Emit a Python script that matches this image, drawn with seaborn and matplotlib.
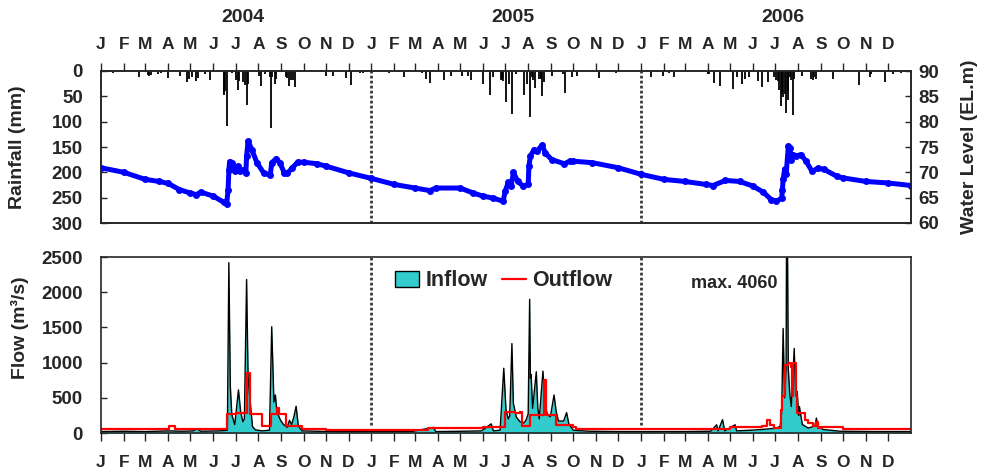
import matplotlib
matplotlib.use("Agg")
import matplotlib.pyplot as plt
import seaborn as sns
import pandas as pd
from matplotlib.patches import Patch
from matplotlib.lines import Line2D

# ---- data (x values are day numbers counted from 1 Jan 2004) ----
years = ["2004", "2005", "2006"]
month_letters = ["J", "F", "M", "A", "M", "J", "J", "A", "S", "O", "N", "D"]

rain_day = [16, 52, 63, 65, 68, 77, 81, 90, 107, 116, 119, 123, 129, 131, 141, 148,
            166, 167, 168, 170, 177, 183, 185, 187, 192, 195, 197, 199, 214, 216, 222,
            228, 230, 232, 235, 237, 250, 252, 254, 257, 260, 263, 305, 314, 331, 338,
            350, 354,
            390, 403, 410, 434, 440, 445, 464, 473, 489, 496, 501, 517, 526, 531, 541,
            543, 544, 548, 552, 556, 561, 573, 576, 580, 583, 585, 587, 593, 595, 596,
            597, 600, 610, 625, 628, 637, 644, 674, 697,
            744, 760, 768, 775, 805, 821, 823, 830, 838, 855, 861, 868, 872, 877, 889,
            895, 903, 910, 914, 916, 918, 920, 921, 923, 925, 927, 929, 930, 932, 934,
            936, 938, 948, 961, 963, 965, 967, 991, 1025, 1040, 1042, 1061, 1072, 1083]
rain_mm = [3, 12, 8, 10, 7, 5, 4, 13, 9, 22, 15, 12, 20, 14, 5, 17,
           45, 48, 40, 108, 4, 18, 37, 20, 22, 28, 68, 25, 9, 30, 5,
           12, 113, 12, 25, 15, 12, 14, 30, 18, 18, 32, 9, 9, 13, 28,
           4, 3,
           3, 2, 12, 4, 15, 24, 18, 9, 9, 9, 18, 25, 48, 12, 18,
           15, 20, 62, 25, 85, 5, 48, 25, 90, 12, 18, 33, 15, 14, 16,
           50, 22, 9, 5, 44, 11, 9, 13, 4,
           11, 9, 4, 11, 2, 5, 6, 24, 30, 35, 12, 25, 15, 12, 20,
           32, 22, 12, 17, 20, 38, 70, 45, 52, 46, 83, 58, 40, 12, 18,
           86, 15, 9, 15, 18, 12, 15, 15, 28, 12, 6, 22, 5, 4]

level_day = [0, 31, 60, 79, 91, 106, 121, 129, 135, 152, 166, 170, 172, 173, 174, 177,
             181, 185, 188, 192, 196, 197, 199, 204, 211, 220, 229, 231, 237, 242, 248,
             252, 259, 266, 274, 292, 305, 335,
             366, 397, 425, 445, 453, 486, 504, 517, 531, 544, 547, 551, 555, 558, 564,
             571, 578, 579, 581, 586, 590, 597, 601, 610, 627, 634, 639, 665, 700,
             731, 762, 790, 819, 828, 845, 864, 882, 896, 907, 914, 921, 922, 923, 925,
             927, 929, 930, 932, 934, 936, 940, 947, 954, 962, 970, 978, 996, 1004,
             1035, 1065, 1096]
level_m = [70.9, 70.0, 68.6, 68.2, 67.8, 66.6, 65.9, 65.6, 66.1, 65.3, 64.1, 63.8, 66.6,
           70.4, 72.1, 71.9, 70.2, 71.2, 70.2, 70.5, 69.8, 73.2, 76.2, 74.5, 71.9, 69.9,
           69.4, 71.9, 72.7, 71.9, 69.9, 69.8, 70.9, 72.0, 72.0, 71.7, 71.2, 69.9,
           68.8, 67.6, 66.9, 66.4, 66.9, 66.9, 65.9, 65.3, 64.9, 64.3, 66.3, 68.0, 67.3,
           70.0, 68.2, 67.3, 67.6, 71.2, 73.2, 74.5, 74.2, 75.4, 73.8, 72.5, 71.7, 72.2,
           72.2, 71.9, 70.9,
           69.6, 68.6, 68.2, 67.6, 67.4, 68.4, 68.2, 67.3, 66.1, 64.6, 64.3, 64.9, 66.6,
           68.6, 70.6, 69.6, 73.2, 75.2, 74.9, 72.5, 73.5, 73.2, 73.5, 72.2, 70.2, 70.8,
           70.6, 69.2, 68.9, 68.2, 67.9, 67.4]

inflow_day = [0, 30, 60, 92, 110, 125, 130, 135, 160, 171, 173, 175, 177, 181, 186, 189,
              192, 194, 197, 199, 201, 205, 209, 218, 228, 231, 234, 236, 238, 243, 247,
              252, 255, 258, 261, 264, 267, 272, 290, 320, 350,
              380, 420, 450, 453, 490, 515, 528, 531, 540, 545, 548, 551, 553, 556, 558,
              562, 567, 572, 575, 578, 580, 581, 582, 584, 589, 591, 593, 598, 601, 604,
              608, 613, 616, 619, 626, 630, 633, 639, 660, 700, 731,
              760, 790, 825, 833, 835, 841, 844, 858, 860, 880, 894, 905, 915, 919, 921,
              923, 925, 927, 928, 930, 932, 934, 938, 940, 942, 944, 945, 949, 957, 966,
              968, 970, 977, 1000, 1050, 1096]
inflow_cms = [20, 25, 20, 30, 25, 30, 60, 25, 30, 40, 2420, 660, 260, 120, 612, 300,
              160, 200, 2180, 800, 540, 90, 45, 30, 40, 1510, 440, 540, 300, 180, 120,
              80, 180, 120, 230, 380, 100, 30, 25, 20, 20,
              20, 20, 80, 20, 25, 30, 130, 30, 40, 920, 330, 200, 240, 1270, 420,
              225, 160, 140, 180, 270, 1900, 780, 830, 350, 870, 360, 200, 880, 400, 260,
              230, 540, 300, 170, 170, 290, 130, 40, 25, 20, 20,
              20, 20, 25, 117, 30, 190, 30, 117, 30, 40, 50, 60, 70, 100, 300,
              1485, 500, 900, 4060, 900, 560, 376, 1200, 520, 590, 250, 376, 120, 70, 100,
              212, 100, 50, 25, 20, 20]

outflow_day = [0, 92, 100, 152, 171, 182, 198, 202, 218, 230, 238, 241, 250, 272, 305,
               366, 443, 486, 517, 547, 560, 567, 569, 580, 593, 599, 602, 616, 638, 643,
               731, 851, 894, 901, 905, 910, 920, 922, 926, 930, 933, 935, 937, 940, 942,
               952, 956, 963, 967, 970, 974, 1004, 1096]
outflow_cms = [55, 95, 55, 50, 270, 285, 850, 270, 95, 265, 350, 265, 100, 60, 45,
               45, 65, 70, 90, 297, 280, 300, 100, 260, 250, 755, 260, 117, 90, 55,
               50, 90, 100, 180, 110, 70, 330, 530, 966, 990, 940, 520, 1000, 520, 283,
               190, 140, 100, 160, 70, 90, 50, 50]

peak_label = "max. 4060"

# ---- style ----
sns.set_style("ticks")
plt.rcParams["font.family"] = ["Liberation Sans", "DejaVu Sans"]
plt.rcParams["font.weight"] = "bold"
plt.rcParams["axes.linewidth"] = 1.2

W, H = 984, 472
fig = plt.figure(figsize=(W / 100, H / 100), dpi=100)

def box(left, top, right, bottom):
    return [left / W, 1 - bottom / H, (right - left) / W, (bottom - top) / H]

ax_r = fig.add_axes(box(101, 71, 911, 223))
ax_w = ax_r.twinx()
ax_f = fig.add_axes(box(101, 257, 911, 433))

t0 = pd.Timestamp("2004-01-01")
month_starts = pd.date_range("2004-01-01", "2006-12-01", freq="MS")
month_ticks = [(m - t0).days for m in month_starts]
month_labels = month_letters * len(years)
year_starts = [(pd.Timestamp(f"{y}-01-01") - t0).days for y in years] + [1096]
x_end = year_starts[-1]

grid_color = "#3a3a3a"

# ---- rainfall (hanging bars) ----
ax_r.vlines(rain_day, 0, rain_mm, color="black", lw=1.3)
ax_r.set_xlim(0, x_end)
ax_r.set_ylim(300, 0)
ax_r.set_yticks(range(0, 301, 50))
ax_r.xaxis.tick_top()
ax_r.set_xticks(month_ticks)
ax_r.set_xticklabels(month_labels)
ax_r.tick_params(axis="x", direction="out", length=6, width=1, pad=8,
                 labelsize=12.5, top=True, bottom=False)
ax_r.tick_params(axis="y", direction="in", length=4, width=1, pad=13, labelsize=13.5)
for d in year_starts[1:-1]:
    ax_r.axvline(d, color=grid_color, ls=(0, (1, 0.8)), lw=2)

# ---- reservoir water level ----
sns.lineplot(x=level_day, y=level_m, ax=ax_w, color="blue", lw=3.6,
             marker="o", markersize=5, markeredgewidth=0, sort=False)
ax_w.set_ylim(60, 90)
ax_w.set_yticks(range(60, 91, 5))
ax_w.set_xlim(0, x_end)
ax_w.set_xlabel("")
ax_w.set_ylabel("")
ax_w.tick_params(axis="y", direction="in", length=4, width=1, pad=5, labelsize=13.5)
ax_w.tick_params(axis="x", top=False, bottom=False, labeltop=False, labelbottom=False)

# ---- inflow / outflow ----
ax_f.fill_between(inflow_day, 0, inflow_cms, color="#33CCCC", lw=0)
sns.lineplot(x=inflow_day, y=inflow_cms, ax=ax_f, color="black", lw=1.0, sort=False)
sns.lineplot(x=outflow_day, y=outflow_cms, ax=ax_f, color="red", lw=1.6,
             drawstyle="steps-post", sort=False)
ax_f.set_xlim(0, x_end)
ax_f.set_ylim(0, 2500)
ax_f.set_yticks(range(0, 2501, 500))
ax_f.set_xticks(month_ticks)
ax_f.set_xticklabels(month_labels)
ax_f.set_xlabel("")
ax_f.set_ylabel("")
ax_f.tick_params(axis="x", direction="out", length=6, width=1, pad=10, labelsize=12.5)
ax_f.tick_params(axis="y", direction="in", length=4, width=1, pad=13, labelsize=13.5)
for d in year_starts[1:-1]:
    ax_f.axvline(d, ymin=0.045, ymax=1.0, color=grid_color, ls=(0, (1, 0.8)), lw=2)

ax_f.text(916, 2130, peak_label, ha="right", va="center", fontsize=13,
          fontweight="bold")

handles = [Patch(facecolor="#33CCCC", edgecolor="black", lw=1),
           Line2D([], [], color="red", lw=1.6)]
fig.legend(handles, ["Inflow", "Outflow"], loc="center left",
           bbox_to_anchor=(395 / W, 1 - 281 / H), ncol=2, frameon=False,
           prop={"size": 15.5, "weight": "bold"}, handlelength=1.1, handleheight=0.75,
           handletextpad=0.3, columnspacing=0.7, borderpad=0, borderaxespad=0)

# ---- titles and axis labels ----
for yr, x0, x1 in zip(years, year_starts[:-1], year_starts[1:]):
    xc = 101 + (x0 + x1) / 2 * 810 / x_end
    fig.text(xc / W + 0.007, 1 - 18 / H, yr, ha="center", va="center",
             fontsize=14, fontweight="bold")

fig.text(18 / W, 1 - 147 / H, "Rainfall (mm)", rotation=90, ha="center",
         va="center", fontsize=14, fontweight="bold")
fig.text(20 / W, 1 - 328 / H, "Flow (m³/s)", rotation=90, ha="center",
         va="center", fontsize=14, fontweight="bold")
fig.text(970 / W, 1 - 147 / H, "Water Level (EL.m)", rotation=90, ha="center",
         va="center", fontsize=14, fontweight="bold")

fig.savefig("out.png", dpi=100)
